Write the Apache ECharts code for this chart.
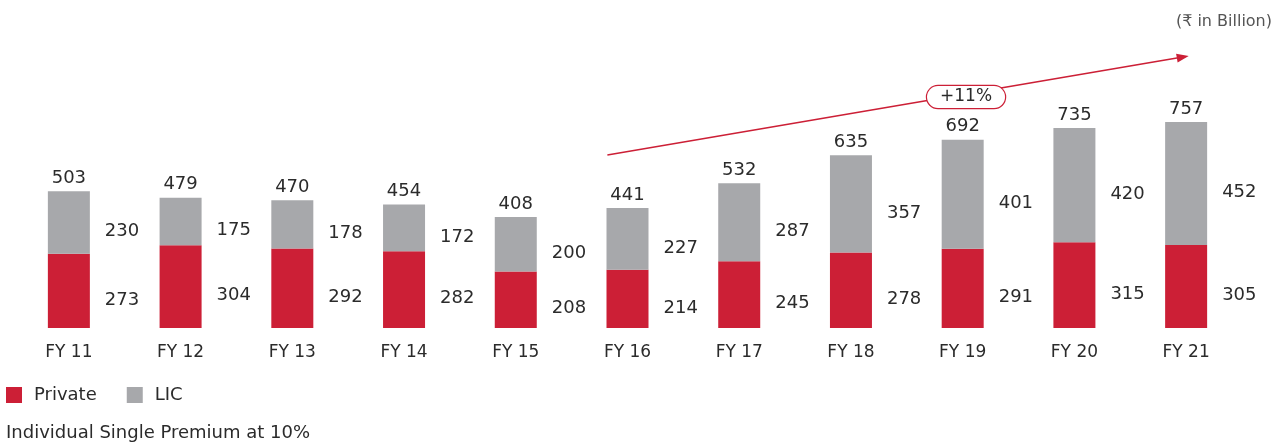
<!DOCTYPE html>
<html>
<head>
<meta charset="utf-8">
<script src="https://cdn.jsdelivr.net/npm/echarts@6/dist/echarts.min.js"></script>
<style>
html,body{margin:0;padding:0;background:#fff;}
#c{width:1281px;height:445px;}
</style>
</head>
<body>
<div id="c"></div>
<script>
const categories = ['FY 11','FY 12','FY 13','FY 14','FY 15','FY 16','FY 17','FY 18','FY 19','FY 20','FY 21'];
const privateVals = [273,304,292,282,208,214,245,278,291,315,305];
const licVals     = [230,175,178,172,200,227,287,357,401,420,452];
const totals      = [503,479,470,454,408,441,532,635,692,735,757];
const growthLabel = '+11%';
const unitNote = '(₹ in Billion)';
const footNote = 'Individual Single Premium at 10%';
// arrow annotation in data space (category index, value)
const arrowStart = [4.82, 636];
const arrowEnd = [9.97, 996];
const growthPoint = [8.03, 849];

const RED = '#cc1f36', GRAY = '#a7a8ab', TXT = '#2b2b2b';
const FONT = 'DejaVu Sans';

const chart = echarts.init(document.getElementById('c'));
chart.setOption({
  animation: false,
  textStyle: {fontFamily: FONT},
  grid: {left: 13, right: 39, top: 56, bottom: 117},
  title: [
    {text: unitNote, right: 4, top: 9, textStyle: {fontFamily: FONT, fontSize: 16, fontWeight: 'normal', color: '#555'}},
    {text: footNote, left: 1, top: 419, textStyle: {fontFamily: FONT, fontSize: 18, fontWeight: 'normal', color: TXT}}
  ],
  legend: {
    data: ['Private','LIC'], left: 1, top: 381, icon: 'rect', itemWidth: 16, itemHeight: 16, itemGap: 30,
    textStyle: {fontFamily: FONT, fontSize: 18, color: TXT, padding: [0,0,0,7]}
  },
  xAxis: [
    {type: 'category', data: categories, axisLine: {show: false}, axisTick: {show: false},
     axisLabel: {fontFamily: FONT, fontSize: 17, color: TXT, margin: 16}},
    {type: 'value', min: -0.5, max: 10.5, show: false}
  ],
  yAxis: {type: 'value', min: 0, max: 1000, show: false},
  series: [
    {name: 'Private', type: 'bar', stack: 's', data: privateVals, barWidth: 42, itemStyle: {color: RED},
     label: {show: true, position: 'right', distance: 15, offset: [0, 9], fontFamily: FONT, fontSize: 18, color: TXT}},
    {name: 'LIC', type: 'bar', stack: 's', data: licVals, barWidth: 42, itemStyle: {color: GRAY},
     label: {show: true, position: 'right', distance: 15, offset: [0, 9], fontFamily: FONT, fontSize: 18, color: TXT}},
    {name: 'Total', type: 'scatter', data: totals, symbolSize: 0, silent: true, itemStyle: {opacity: 1},
     label: {show: true, position: 'top', distance: 4, fontFamily: FONT, fontSize: 18, color: TXT, opacity: 1, formatter: p => p.value}},
    {name: 'Growth', type: 'line', xAxisIndex: 1, data: [], silent: true,
     markLine: {silent: true, symbol: ['none','triangle'], symbolSize: [9, 12], z: 5,
       lineStyle: {color: RED, width: 1.5, type: 'solid'}, label: {show: false},
       data: [[{coord: arrowStart}, {coord: arrowEnd}]]},
     markPoint: {silent: true, z: 10, symbol: 'circle', symbolSize: 0,
       itemStyle: {color: 'transparent'},
       label: {show: true, position: 'inside', fontFamily: FONT, fontSize: 17, color: TXT, formatter: growthLabel,
         backgroundColor: '#fff', borderColor: RED, borderWidth: 1.2, borderRadius: 13, padding: [3, 13, 2, 13]},
       data: [{coord: growthPoint}]}}
  ]
});
</script>
</body>
</html>
